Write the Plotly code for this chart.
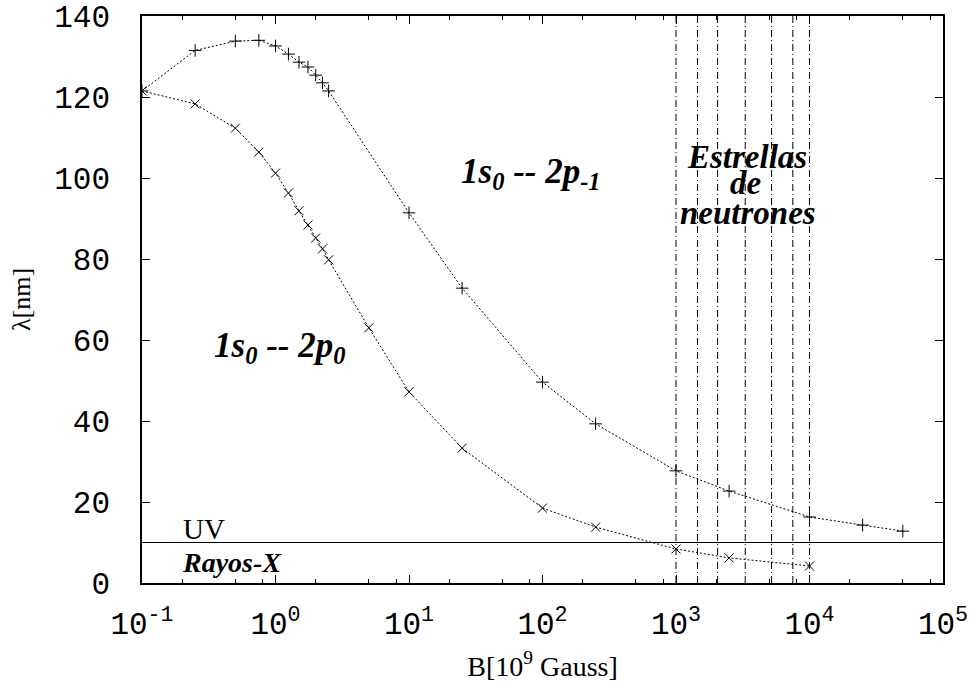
import plotly.graph_objects as go

# Data
B_m1 = [0.1, 0.25, 0.5, 0.75, 1.0, 1.25, 1.5, 1.75, 2.0, 2.25, 2.5,
        10, 25, 100, 250, 1000, 2500, 10000, 25000, 50000]
lam_m1 = [121.5, 131.5, 133.8, 134.0, 132.6, 130.6, 128.6, 127.4, 125.4, 123.5, 121.5,
          91.4, 72.8, 49.6, 39.3, 27.7, 22.7, 16.3, 14.3, 12.8]
B_0 = [0.1, 0.25, 0.5, 0.75, 1.0, 1.25, 1.5, 1.75, 2.0, 2.25, 2.5,
       5, 10, 25, 100, 250, 1000, 2500, 10000]
lam_0 = [121.5, 118.3, 112.3, 106.4, 101.2, 96.3, 91.9, 88.4, 85.2, 82.5, 79.8,
         63.0, 47.2, 33.3, 18.5, 13.8, 8.4, 6.2, 4.2]
ns_B = [1000, 1450, 2050, 3300, 5200, 7500, 10000]   # neutron-star field lines
uv_limit = 10
x_ticks = [0.1, 1, 10, 100, 1000, 10000, 100000]
x_ticktext = ["10<sup>-1</sup>", "10<sup>0</sup>", "10<sup>1</sup>", "10<sup>2</sup>",
              "10<sup>3</sup>", "10<sup>4</sup>", "10<sup>5</sup>"]
x_minor = [m * 10.0 ** e for e in range(-1, 5) for m in (2, 5, 8)]
y_ticks = [0, 20, 40, 60, 80, 100, 120, 140]

fig = go.Figure()

for xv in ns_B:
    fig.add_trace(go.Scatter(x=[xv, xv], y=[0, 140], mode="lines",
                             line=dict(color="black", width=1, dash="7px,3px,1px,3px"),
                             hoverinfo="skip", showlegend=False))

fig.add_trace(go.Scatter(x=[0.1, 100000], y=[uv_limit, uv_limit], mode="lines",
                         line=dict(color="black", width=1), showlegend=False))

fig.add_trace(go.Scatter(x=B_m1, y=lam_m1, mode="lines+markers", name="1s0-2p-1",
                         line=dict(color="black", width=1, dash="2px,2px"),
                         marker=dict(symbol="cross-thin", size=9, color="black",
                                     line=dict(color="black", width=1)),
                         showlegend=False))
fig.add_trace(go.Scatter(x=B_0, y=lam_0, mode="lines+markers", name="1s0-2p0",
                         line=dict(color="black", width=1, dash="2px,2px"),
                         marker=dict(symbol="x-thin", size=9, color="black",
                                     line=dict(color="black", width=1)),
                         showlegend=False))

L, R, T, Bm = 142, 33, 16, 105
W, H = 976, 688
pw, ph = W - L - R, H - T - Bm

def px(x):
    return (x - L) / pw

def py(y):
    return (H - Bm - y) / ph

serif = "Liberation Serif"
ann = [
    dict(text="<b><i>1s<sub>0</sub> -- 2p<sub>-1</sub></i></b>", x=px(531), y=py(173), size=35),
    dict(text="<b><i>1s<sub>0</sub> -- 2p<sub>0</sub></i></b>", x=px(279), y=py(347), size=35),
    dict(text="<b><i>Estrellas</i></b>", x=px(747), y=py(157), size=33),
    dict(text="<b><i>de</i></b>", x=px(745), y=py(183), size=33),
    dict(text="<b><i>neutrones</i></b>", x=px(748), y=py(213), size=33),
]
annotations = []
for a in ann:
    annotations.append(dict(text=a["text"], x=a["x"], y=a["y"], xref="paper", yref="paper",
                            showarrow=False, xanchor="center", yanchor="middle",
                            font=dict(family=serif, size=a["size"], color="black")))
annotations.append(dict(text="UV", x=px(181), y=py(529), xref="paper", yref="paper",
                        showarrow=False, xanchor="left", yanchor="middle",
                        font=dict(family=serif, size=29, color="black")))
annotations.append(dict(text="<b><i>Rayos-X</i></b>", x=px(180), y=py(562), xref="paper", yref="paper",
                        showarrow=False, xanchor="left", yanchor="middle",
                        font=dict(family=serif, size=28, color="black")))

fig.update_layout(
    width=W, height=H,
    margin=dict(l=L, r=R, t=T, b=Bm, autoexpand=False),
    paper_bgcolor="white", plot_bgcolor="white",
    annotations=annotations,
    xaxis=dict(type="log", range=[-1, 5], tickmode="array", tickvals=x_ticks,
               ticktext=x_ticktext, ticks="inside", ticklen=8, tickwidth=1,
               tickcolor="black", showline=True, linecolor="black", linewidth=1.5,
               mirror="ticks", showgrid=False, zeroline=False, automargin=False,
               tickfont=dict(family="Liberation Mono", size=31, color="black"),
               ticklabelstandoff=12,
               minor=dict(tickmode="array", tickvals=x_minor, ticks="inside",
                          ticklen=4, tickcolor="black", tickwidth=1, showgrid=False),
               title=dict(text="B[10<sup>9</sup> Gauss]", standoff=14,
                          font=dict(family=serif, size=28, color="black"))),
    yaxis=dict(range=[0, 140], tickmode="array", tickvals=y_ticks,
               ticks="inside", ticklen=8, tickwidth=1, tickcolor="black",
               showline=True, linecolor="black", linewidth=1.5, mirror="ticks",
               showgrid=False, zeroline=False, automargin=False,
               tickfont=dict(family="Liberation Mono", size=31, color="black"),
               ticklabelstandoff=24,
               title=dict(text="λ[nm]", standoff=16,
                          font=dict(family=serif, size=26, color="black"))),
)

fig.write_html("out.html")
